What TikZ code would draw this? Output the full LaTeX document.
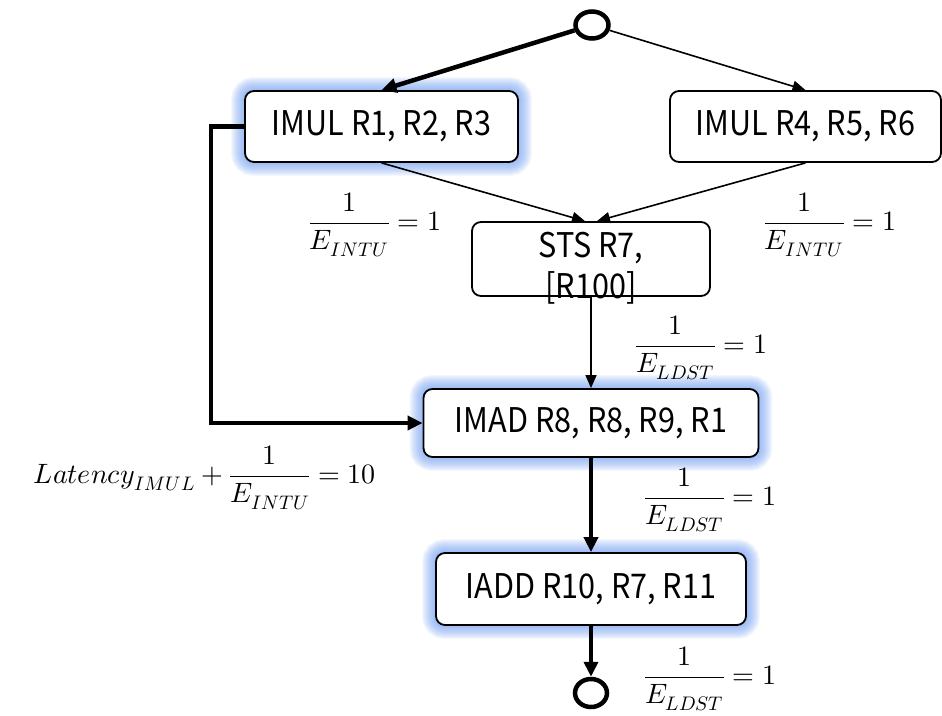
\documentclass[tikz,border=0pt]{standalone}
\usepackage{fontspec}
\usepackage{unicode-math}
\setmathfont{Latin Modern Math}
\newfontfamily\boxfont[FakeStretch=0.9]{Noto Sans CJK SC}
\usetikzlibrary{arrows.meta,shapes.geometric}
\pgfdeclarelayer{glow}
\pgfsetlayers{glow,main}
\definecolor{glowblue}{RGB}{110,155,240}

\tikzset{
  instr/.style={draw, line width=1.8pt, rounded corners=9pt, fill=white,
    inner sep=0pt, font=\boxfont\fontsize{34}{41}\selectfont},
  boxtext/.style={inner sep=0pt, align=center, font=\boxfont\fontsize{34}{41}\selectfont},
  terminal/.style={draw, ellipse, line width=4.5pt, inner sep=0pt},
  thinedge/.style={line width=1.6pt, -{Triangle[length=13pt,width=11pt]}},
  thickedge/.style={line width=4.5pt, -{Triangle[length=15pt,width=14pt]}},
  cost/.style={inner sep=0pt, font=\fontsize{28}{32}\selectfont},
}

% soft blue halo behind a highlighted instruction box
\newcommand\halo[1]{%
  \begin{pgfonlayer}{glow}
    \foreach \w in {26,24,...,2}
      \draw[glowblue, line width=\w pt, opacity=0.075, rounded corners=9pt]
        (#1.south west) rectangle (#1.north east);
  \end{pgfonlayer}}

\begin{document}
\begin{tikzpicture}[x=1pt,y=-1pt]
\useasboundingbox (0,0) rectangle (942,715);

% start and end terminals
\node[terminal, minimum width=33pt, minimum height=27pt] (start) at (592,25) {};
\node[terminal, minimum width=32pt, minimum height=28pt] (stop) at (591,693) {};

% instruction boxes
\node[instr, minimum width=273pt, minimum height=71pt] (mulA) at (381.5,126.5) {IMUL R1, R2, R3};
\node[instr, minimum width=271pt, minimum height=71pt] (mulB) at (805.5,126.5) {IMUL R4, R5, R6};
\node[instr, minimum width=238pt, minimum height=74pt] (sts) at (591,259) {};
\node[boxtext] (ststext) at (591,268) {STS R7,\\{[R100]}};
\node[instr, minimum width=335pt, minimum height=68pt] (imad) at (591,423) {IMAD R8, R8, R9, R1};
\node[instr, minimum width=310pt, minimum height=72pt] (iadd) at (591,589) {IADD R10, R7, R11};

\halo{mulA}
\halo{imad}
\halo{iadd}

% dependence edges
\draw[thickedge] (start) -- (mulA.north);
\draw[thinedge] (start) -- (mulB.north);
\draw[thinedge] (mulA.south) -- ([xshift=-6pt]sts.north);
\draw[thinedge] (mulB.south) -- ([xshift=6pt]sts.north);
\draw[thinedge] (sts.south) -- (imad.north);
\draw[thickedge] (mulA.west) -- ++(-33pt,0pt) |- (imad.west);
\draw[thickedge] (imad.south) -- (iadd.north);
\draw[thickedge] (iadd.south) -- (stop);

% edge weights
\node[cost] (wA) at (375,225) {$\displaystyle\frac{1}{E_{INTU}}=1$};
\node[cost] (wB) at (830,225) {$\displaystyle\frac{1}{E_{INTU}}=1$};
\node[cost] (wC) at (701,348) {$\displaystyle\frac{1}{E_{LDST}}=1$};
\node[cost] (wD) at (205,478) {$\displaystyle Latency_{IMUL}+\frac{1}{E_{INTU}}=10$};
\node[cost] (wE) at (710,500) {$\displaystyle\frac{1}{E_{LDST}}=1$};
\node[cost] (wF) at (710,679) {$\displaystyle\frac{1}{E_{LDST}}=1$};
\end{tikzpicture}
\end{document}
